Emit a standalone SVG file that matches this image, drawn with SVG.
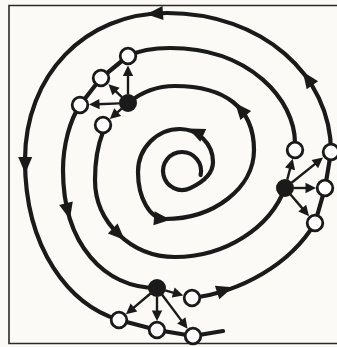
<svg xmlns="http://www.w3.org/2000/svg" xmlns:xlink="http://www.w3.org/1999/xlink" width="337" height="347" viewBox="0 0 337 347">
<style>
.bg{fill:#fbfaf6}
.frame{fill:none;stroke:#2a2a2a;stroke-width:1.6}
.sp{fill:none;stroke:#1a1a1a;stroke-width:4.2;stroke-linecap:round;stroke-linejoin:round}
.ar{fill:none;stroke:#1a1a1a;stroke-width:2.4}
.hd{fill:#1a1a1a}
.open{fill:#ffffff;stroke:#1a1a1a;stroke-width:2.8}
.dot{fill:#1a1a1a}
</style>
<defs>
<path id="bigHead" d="M8.5,0 L-8,-7 L-8,7 Z"/>
<path id="smallHead" d="M0,0 L-10.5,-5.2 L-10.5,5.2 Z"/>
</defs>
<rect class="bg" x="0" y="0" width="337" height="347"/>
<path class="frame" d="M340,5.5 L9,5.5 L9,343.5 L340,343.5"/>
<g id="connectors">
  <g id="spiral">
    <path class="sp" d="M200.6,175 A19,19 0 1,0 190.3,188.1 C199,184 213,176 213,162 C213,144 198,129 180,129 C157,129 138,148 138,172 C138,198 150,219 165,219 C214,219 254,188 254,150 C254,108 225,86 175,86 C155,86 139,94 128,103"/>
    <path class="sp" d="M103,132 C99,142 95,158 95,180 C95,222 131,257 175,257 C225,257 270,228 285,188"/>
    <path class="sp" d="M295,143 C295,100 250,48 170,48 C155,48 140,50 128,56 L101,78 L80,105 C70,120 63,145 63,170 C63,245 105,288 157,288"/>
    <path class="sp" d="M192,298 C240,292 290,265 315,223 L325,188 L331,152 C331,75 262,13 167,13 C85,13 25,75 25,160 C25,250 70,305 119,320 L157,330 L193,336 L223,331"/>
    <use xlink:href="#bigHead" class="hd" transform="translate(196,132) rotate(205)"/>
    <use xlink:href="#bigHead" class="hd" transform="translate(162,219) rotate(5)"/>
    <use xlink:href="#bigHead" class="hd" transform="translate(240.6,109.4) rotate(230)"/>
    <use xlink:href="#bigHead" class="hd" transform="translate(118.5,234) rotate(44)"/>
    <use xlink:href="#bigHead" class="hd" transform="translate(67.9,211) rotate(76)"/>
    <use xlink:href="#bigHead" class="hd" transform="translate(307.8,78.8) rotate(235)"/>
    <use xlink:href="#bigHead" class="hd" transform="translate(155,13.6) rotate(176)"/>
    <use xlink:href="#bigHead" class="hd" transform="translate(25.2,165) rotate(90)"/>
    <use xlink:href="#bigHead" class="hd" transform="translate(224.7,290) rotate(-18)"/>
  </g>
  <g id="arrows">
    <line class="ar" x1="128" y1="94.5" x2="128" y2="74"/>
    <use xlink:href="#smallHead" class="hd" transform="translate(128,65.5) rotate(-90)"/>
    <line class="ar" x1="121.9" y1="97.1" x2="114.3" y2="89.8"/>
    <use xlink:href="#smallHead" class="hd" transform="translate(108.5,84.2) rotate(224)"/>
    <line class="ar" x1="119.5" y1="103.4" x2="97" y2="104.3"/>
    <use xlink:href="#smallHead" class="hd" transform="translate(89,104.6) rotate(177.6)"/>
    <line class="ar" x1="121.6" y1="108.6" x2="115.8" y2="113.8"/>
    <use xlink:href="#smallHead" class="hd" transform="translate(109.8,119.1) rotate(138.7)"/>

    <line class="ar" x1="287.2" y1="179.8" x2="290.7" y2="166.4"/>
    <use xlink:href="#smallHead" class="hd" transform="translate(292.7,158.7) rotate(-75.3)"/>
    <line class="ar" x1="291.6" y1="182.7" x2="316.7" y2="162.6"/>
    <use xlink:href="#smallHead" class="hd" transform="translate(323,157.6) rotate(-38.7)"/>
    <line class="ar" x1="293.5" y1="188" x2="308" y2="188"/>
    <use xlink:href="#smallHead" class="hd" transform="translate(316,188) rotate(0)"/>
    <line class="ar" x1="290.5" y1="194.5" x2="303.9" y2="210.1"/>
    <use xlink:href="#smallHead" class="hd" transform="translate(309.1,216.2) rotate(49.4)"/>

    <line class="ar" x1="165.2" y1="290.3" x2="175.6" y2="293.3"/>
    <use xlink:href="#smallHead" class="hd" transform="translate(183.3,295.5) rotate(15.9)"/>
    <line class="ar" x1="150.5" y1="293.5" x2="132" y2="309.1"/>
    <use xlink:href="#smallHead" class="hd" transform="translate(125.9,314.2) rotate(140.1)"/>
    <line class="ar" x1="157" y1="296.5" x2="157" y2="313"/>
    <use xlink:href="#smallHead" class="hd" transform="translate(157,321) rotate(90)"/>
    <line class="ar" x1="162.1" y1="294.8" x2="182.8" y2="322.4"/>
    <use xlink:href="#smallHead" class="hd" transform="translate(187.6,328.8) rotate(53.1)"/>
  </g>
</g>
<g id="node-d1"><circle class="dot" cx="128" cy="103" r="9"/></g>
<g id="node-a1"><circle class="open" cx="128" cy="56" r="7.8"/></g>
<g id="node-a2"><circle class="open" cx="101" cy="78" r="7.8"/></g>
<g id="node-a3"><circle class="open" cx="80" cy="105" r="7.8"/></g>
<g id="node-a4"><circle class="open" cx="103" cy="125" r="7.8"/></g>
<g id="node-d2"><circle class="dot" cx="285" cy="188" r="9"/></g>
<g id="node-b1"><circle class="open" cx="295" cy="150" r="7.8"/></g>
<g id="node-b2"><circle class="open" cx="331" cy="152" r="7.8"/></g>
<g id="node-b3"><circle class="open" cx="325" cy="188" r="7.8"/></g>
<g id="node-b4"><circle class="open" cx="315" cy="223" r="7.8"/></g>
<g id="node-d3"><circle class="dot" cx="157" cy="288" r="9"/></g>
<g id="node-c1"><circle class="open" cx="192" cy="298" r="7.8"/></g>
<g id="node-c2"><circle class="open" cx="119" cy="320" r="7.8"/></g>
<g id="node-c3"><circle class="open" cx="157" cy="330" r="7.8"/></g>
<g id="node-c4"><circle class="open" cx="193" cy="336" r="7.8"/></g>
</svg>
